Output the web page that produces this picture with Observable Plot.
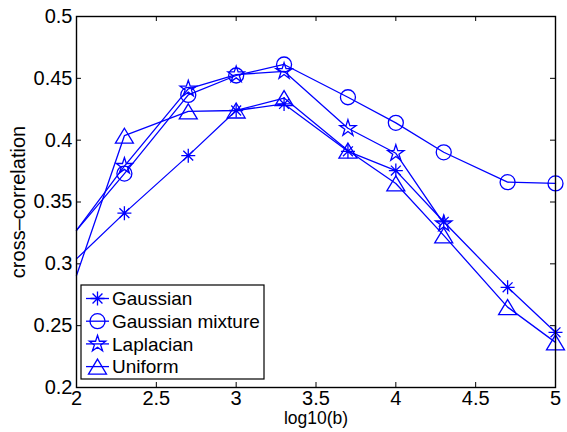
<!DOCTYPE html>
<html>
<head>
<meta charset="utf-8">
<script src="https://cdn.jsdelivr.net/npm/d3@7"></script>
<script src="https://cdn.jsdelivr.net/npm/@observablehq/plot@0.6"></script>
<style>
  html, body { margin: 0; padding: 0; background: #fff; }
</style>
</head>
<body>
<div id="chart"></div>
<script>
// ---- data ----
const xs = [2, 2.3, 2.7, 3, 3.3, 3.7, 4, 4.3, 4.7, 5];
const gaussian  = [0.304, 0.341, 0.3875, 0.424, 0.4293, 0.391, 0.3754, 0.334, 0.281, 0.2446];
const mixture   = [0.327, 0.373, 0.4366, 0.4523, 0.4612, 0.4347, 0.414, 0.3902, 0.366, 0.365];
const laplacian = [0.327, 0.379, 0.4415, 0.453, 0.4557, 0.4096, 0.3894, 0.3325, null, null];
const uniform   = [0.2905, 0.4036, 0.4233, 0.424, 0.434, 0.3916, 0.365, 0.323, 0.265, 0.2365];
const seriesNames = ["Gaussian", "Gaussian mixture", "Laplacian", "Uniform"];
const xTicks = [2, 2.5, 3, 3.5, 4, 4.5, 5];
const yTicks = [0.2, 0.25, 0.3, 0.35, 0.4, 0.45, 0.5];
const xLabel = "log10(b)";
const yLabel = "cross–correlation";

// ---- symbols (MATLAB-like markers) ----
const symAsterisk = {draw(ctx) {
  const R = 7, d = R * Math.SQRT1_2;
  ctx.moveTo(0, -R); ctx.lineTo(0, R);
  ctx.moveTo(-R, 0); ctx.lineTo(R, 0);
  ctx.moveTo(-d, -d); ctx.lineTo(d, d);
  ctx.moveTo(-d, d); ctx.lineTo(d, -d);
}};
const symCircle = {draw(ctx) {
  const r = 7.5;
  ctx.moveTo(r, 0); ctx.arc(0, 0, r, 0, 2 * Math.PI); ctx.closePath();
}};
const symStar = {draw(ctx) {
  const R = 8.6, r = R * 0.382;
  for (let i = 0; i < 10; i++) {
    const rad = i % 2 ? r : R;
    const a = -Math.PI / 2 + i * Math.PI / 5;
    const px = rad * Math.cos(a), py = rad * Math.sin(a);
    if (i === 0) ctx.moveTo(px, py); else ctx.lineTo(px, py);
  }
  ctx.closePath();
}};
const symTriangle = {draw(ctx) {
  ctx.moveTo(0, -7.5); ctx.lineTo(9, 7.5); ctx.lineTo(-9, 7.5); ctx.closePath();
}};
const symbols = [symAsterisk, symCircle, symStar, symTriangle];
const valueLists = [gaussian, mixture, laplacian, uniform];

const rows = [];
valueLists.forEach((vals, s) => vals.forEach((v, i) => {
  if (v != null) rows.push({series: seriesNames[s], x: xs[i], y: v});
}));

const blue = "#0000ff";
const W = 567, H = 432;
const mT = 16, mR = 12, mB = 45, mL = 76;
const innerW = W - mL - mR, innerH = H - mT - mB;
const font = "'Liberation Sans', Arial, Helvetica, sans-serif";
const fs = 20;

const marks = [
  Plot.axisX(xTicks, {tickSize: 0, tickPadding: 3, tickFormat: d => String(d), label: null, fontSize: fs}),
  Plot.axisY(yTicks, {tickSize: 0, tickPadding: 4, tickFormat: d => String(d), label: null, fontSize: fs}),
  Plot.tickX(xTicks, {x: d => d, insetTop: innerH - 5, stroke: "black"}),
  Plot.tickX(xTicks, {x: d => d, insetBottom: innerH - 5, stroke: "black"}),
  Plot.tickY(yTicks, {y: d => d, insetRight: innerW - 5, stroke: "black"}),
  Plot.tickY(yTicks, {y: d => d, insetLeft: innerW - 5, stroke: "black"})
];
seriesNames.forEach((name, s) => {
  const data = rows.filter(r => r.series === name);
  marks.push(Plot.line(data, {x: "x", y: "y", stroke: blue, strokeWidth: 1.3}));
  marks.push(Plot.dot(data.filter(r => r.x > xs[0]), {x: "x", y: "y", symbol: symbols[s], r: 1, fill: "none", stroke: blue, strokeWidth: 1.3}));
});
marks.push(Plot.frame({stroke: "black", strokeWidth: 1.4}));
marks.push(Plot.text([yLabel], {frameAnchor: "left", textAnchor: "middle", rotate: -90, dx: -58, fontSize: fs, fill: "black"}));
marks.push(Plot.text([xLabel], {frameAnchor: "bottom", textAnchor: "middle", dy: 31, lineAnchor: "middle", fontSize: 17.5, fill: "black"}));

const chart = Plot.plot({
  width: W, height: H,
  marginTop: mT, marginRight: mR, marginBottom: mB, marginLeft: mL,
  style: {fontFamily: font, fontSize: fs + "px", color: "black", background: "white", overflow: "visible"},
  x: {domain: [2, 5]},
  y: {domain: [0.2, 0.5]},
  marks
});
document.getElementById("chart").appendChild(chart);

// ---- legend (inside lower-left corner of axes) ----
const svg = d3.select(chart);
const lg = svg.append("g").attr("font-family", font).attr("font-size", 19).attr("text-anchor", "start");
const lx = mL + 5, ly = H - mB - 102, lw = 183, lh = 94;
lg.append("rect").attr("x", lx).attr("y", ly).attr("width", lw).attr("height", lh)
  .attr("fill", "white").attr("stroke", "black").attr("stroke-width", 1.2);
seriesNames.forEach((name, s) => {
  const cy = ly + 13.5 + s * 22.7;
  lg.append("line").attr("x1", lx + 5).attr("x2", lx + 28).attr("y1", cy).attr("y2", cy)
    .attr("stroke", blue).attr("stroke-width", 1.3);
  lg.append("path").attr("d", d3.symbol(symbols[s], 1)()).attr("transform", `translate(${lx + 16.5},${cy})`)
    .attr("fill", "none").attr("stroke", blue).attr("stroke-width", 1.3);
  lg.append("text").attr("x", lx + 31).attr("y", cy).attr("dy", "0.35em").attr("fill", "black")
    .attr("text-anchor", "start").text(name);
});
</script>
</body>
</html>
